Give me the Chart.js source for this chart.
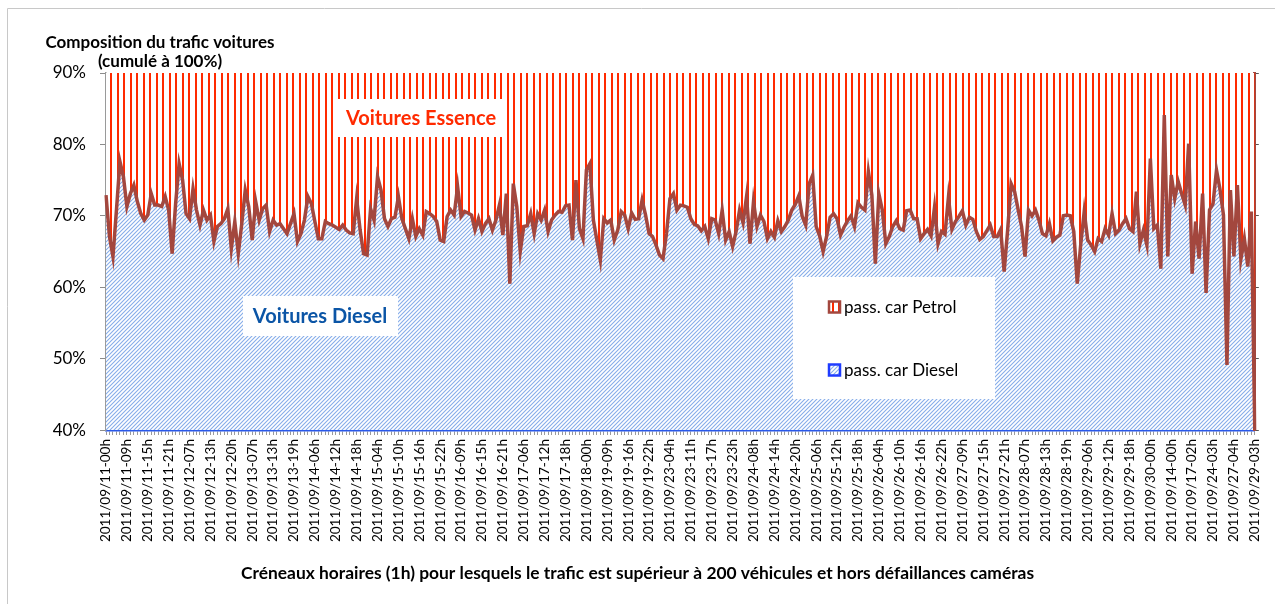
<!DOCTYPE html>
<html>
<head>
<meta charset="utf-8">
<script src="https://cdn.jsdelivr.net/npm/chart.js@4"></script>
<style>
  html, body { margin: 0; padding: 0; background: #fff; }
</style>
</head>
<body>
<canvas id="chart" width="1275" height="604"></canvas>
<script>
// Composition du trafic voitures : part Diesel (cumulé à 100%, le reste = Essence)

// one tick label every 6 hourly slots
const tickLabels = [
    '2011/09/11-00h', '2011/09/11-09h', '2011/09/11-15h', '2011/09/11-21h', '2011/09/12-07h',
    '2011/09/12-13h', '2011/09/12-20h', '2011/09/13-07h', '2011/09/13-13h', '2011/09/13-19h',
    '2011/09/14-06h', '2011/09/14-12h', '2011/09/14-18h', '2011/09/15-04h', '2011/09/15-10h',
    '2011/09/15-16h', '2011/09/15-22h', '2011/09/16-09h', '2011/09/16-15h', '2011/09/16-21h',
    '2011/09/17-06h', '2011/09/17-12h', '2011/09/17-18h', '2011/09/18-00h', '2011/09/19-09h',
    '2011/09/19-16h', '2011/09/19-22h', '2011/09/23-04h', '2011/09/23-11h', '2011/09/23-17h',
    '2011/09/23-23h', '2011/09/24-08h', '2011/09/24-14h', '2011/09/24-20h', '2011/09/25-06h',
    '2011/09/25-12h', '2011/09/25-18h', '2011/09/26-04h', '2011/09/26-10h', '2011/09/26-16h',
    '2011/09/26-22h', '2011/09/27-09h', '2011/09/27-15h', '2011/09/27-21h', '2011/09/28-07h',
    '2011/09/28-13h', '2011/09/28-19h', '2011/09/29-06h', '2011/09/29-12h', '2011/09/29-18h',
    '2011/09/30-00h', '2011/09/14-00h', '2011/09/17-02h', '2011/09/24-03h', '2011/09/27-04h',
    '2011/09/29-03h'
];
const LABEL_STEP = 6;

// share of diesel cars per slot (%), petrol = the rest up to 100%
const dieselShare = [
    72.9, 67.1, 64.3, 70.8, 77.6, 75.5, 71.3, 73.1, 74.3, 72.0,
    70.3, 69.4, 70.1, 73.1, 71.5, 71.5, 71.3, 72.7, 70.8, 64.7,
    71.7, 77.3, 75.0, 70.3, 69.6, 73.8, 70.8, 68.7, 70.8, 69.4,
    70.1, 66.4, 68.5, 68.9, 69.6, 71.0, 65.4, 69.2, 64.7, 68.9,
    73.6, 71.3, 66.6, 72.0, 69.4, 71.0, 71.5, 67.8, 69.4, 68.7,
    68.9, 68.2, 67.5, 68.9, 70.3, 66.4, 67.5, 69.4, 72.7, 71.7,
    69.2, 66.8, 66.8, 69.2, 68.9, 68.7, 68.4, 68.1, 68.7, 68.0,
    67.6, 67.5, 72.4, 68.0, 64.7, 64.5, 71.0, 69.4, 75.5, 73.6,
    69.6, 68.5, 69.6, 69.8, 72.7, 69.6, 68.2, 66.8, 69.6, 67.1,
    68.2, 67.3, 70.6, 70.3, 69.9, 69.2, 66.6, 66.4, 69.9, 70.8,
    70.1, 74.1, 69.9, 70.6, 70.4, 70.1, 68.0, 69.6, 67.8, 68.9,
    69.6, 68.0, 69.4, 71.5, 67.3, 73.1, 60.5, 74.5, 71.3, 65.0,
    68.5, 68.6, 70.3, 67.5, 70.3, 69.4, 70.8, 67.8, 69.4, 70.1,
    70.6, 70.5, 71.4, 71.5, 66.6, 75.0, 68.2, 66.8, 76.4, 77.3,
    69.4, 66.6, 63.8, 69.6, 69.0, 69.4, 66.6, 68.0, 70.6, 70.1,
    68.2, 70.4, 69.5, 69.6, 72.2, 70.1, 67.5, 67.1, 65.9, 64.5,
    64.0, 67.5, 72.4, 73.1, 70.8, 71.5, 71.4, 71.2, 69.6, 68.8,
    68.6, 67.9, 68.5, 66.8, 69.6, 69.4, 67.5, 70.8, 66.6, 67.8,
    65.7, 67.8, 70.8, 69.0, 72.7, 66.1, 72.0, 68.5, 70.1, 69.2,
    66.8, 67.8, 67.0, 69.3, 67.8, 68.5, 69.4, 70.8, 71.6, 72.8,
    69.9, 68.7, 74.5, 75.7, 68.5, 67.2, 65.0, 67.1, 69.8, 70.3,
    69.6, 67.3, 68.4, 69.3, 70.0, 68.5, 71.8, 71.2, 70.8, 76.2,
    72.9, 63.3, 73.1, 70.8, 66.1, 67.1, 68.5, 69.3, 68.2, 68.0,
    70.7, 70.8, 69.6, 69.6, 66.8, 67.5, 68.1, 67.2, 71.2, 66.1,
    67.8, 67.4, 72.6, 68.1, 69.2, 69.9, 70.7, 68.7, 69.8, 69.5,
    67.8, 66.7, 67.1, 67.9, 68.7, 67.1, 67.1, 68.1, 62.2, 68.0,
    74.5, 73.4, 70.9, 68.5, 64.3, 70.8, 70.0, 70.8, 69.4, 67.5,
    67.2, 68.9, 66.5, 67.0, 67.3, 70.0, 70.1, 70.0, 67.8, 60.5,
    66.0, 70.6, 66.6, 65.9, 65.0, 66.8, 66.4, 68.2, 67.3, 70.3,
    67.5, 68.0, 68.9, 69.6, 68.2, 67.8, 73.4, 66.1, 68.0, 65.9,
    78.0, 68.2, 68.7, 62.6, 84.1, 64.3, 75.7, 72.4, 74.8, 73.1,
    71.5, 80.1, 61.9, 69.2, 64.0, 73.1, 59.2, 70.8, 71.7, 76.4,
    73.7, 70.1, 49.1, 73.6, 64.3, 74.3, 63.9, 66.8, 62.9, 70.6,
    40.0
];

const yTicks = [40, 50, 60, 70, 80, 90];

const categories = dieselShare.map((_, i) => i % LABEL_STEP === 0 ? tickLabels[i / LABEL_STEP] : '');

const BROWN = '#a3473e';
const RED = '#ff2a00';
const BLUE = '#2a58e8';

Chart.defaults.font.family = "Lato, 'Open Sans', sans-serif";
Chart.defaults.color = '#000';

// vertical red lines (essence)
function makePetrolPattern() {
    const c = document.createElement('canvas');
    c.width = 13; c.height = 4;
    const g = c.getContext('2d');
    g.fillStyle = '#fff';
    g.fillRect(0, 0, 13, 4);
    g.fillStyle = RED;
    g.fillRect(0, 0, 2, 4);
    g.fillRect(6, 0, 2, 4);
    return g.createPattern(c, 'repeat');
}

// light blue diagonal hatch (diesel)
function makeDieselPattern() {
    const c = document.createElement('canvas');
    c.width = 4; c.height = 4;
    const g = c.getContext('2d');
    g.fillStyle = '#fff';
    g.fillRect(0, 0, 4, 4);
    g.strokeStyle = '#86ade9';
    g.lineWidth = 1.1;
    g.beginPath();
    g.moveTo(-1, 5); g.lineTo(5, -1);
    g.moveTo(-1, 1); g.lineTo(1, -1);
    g.moveTo(3, 5); g.lineTo(5, 3);
    g.stroke();
    return g.createPattern(c, 'repeat');
}

const petrolPattern = makePetrolPattern();
const dieselPattern = makeDieselPattern();

// text boxes, y-axis title and legend, drawn like the Excel original
const overlayPlugin = {
    id: 'overlay',
    afterDatasetsDraw(chart) {
        const ctx = chart.ctx;
        ctx.save();

        // outer frame (left / top)
        ctx.strokeStyle = '#c8c8c8';
        ctx.lineWidth = 1;
        ctx.beginPath();
        ctx.moveTo(7.5, 604); ctx.lineTo(7.5, 8.5); ctx.lineTo(1275, 8.5);
        ctx.stroke();

        // y-axis title
        ctx.fillStyle = '#000';
        ctx.textAlign = 'center';
        ctx.textBaseline = 'middle';
        ctx.font = "bold 17px Lato, sans-serif";
        ctx.fillText('Composition du trafic voitures', 160, 43);
        ctx.fillText('(cumulé à 100%)', 160, 62);

        // labels on the areas
        ctx.fillStyle = '#fff';
        ctx.fillRect(337, 99, 170, 38);
        ctx.fillRect(243, 296, 155, 40);
        ctx.font = "bold 20px Lato, sans-serif";
        ctx.fillStyle = RED;
        ctx.fillText('Voitures Essence', 421, 119);
        ctx.fillStyle = '#0b55a6';
        ctx.fillText('Voitures Diesel', 320, 317);

        // legend
        ctx.fillStyle = '#fff';
        ctx.fillRect(793, 277, 202, 122);
        const items = chart.data.datasets;
        const rows = [307, 370];
        ctx.font = "17px Lato, sans-serif";
        ctx.textAlign = 'left';
        items.forEach((ds, k) => {
            const y = rows[k];
            ctx.fillStyle = ds.backgroundColor;
            ctx.fillRect(829, y - 5.5, 11, 11);
            ctx.strokeStyle = ds.legendColor;
            ctx.lineWidth = 2.5;
            ctx.strokeRect(829, y - 5.5, 11, 11);
            ctx.fillStyle = '#000';
            ctx.fillText(ds.label, 844, y + 1);
        });
        ctx.restore();
    }
};

const ctx = document.getElementById('chart').getContext('2d');
const chart = new Chart(ctx, {
    type: 'line',
    data: {
        labels: categories,
        datasets: [{
            // petrol band sits on top of the diesel share, up to 100%
            label: 'pass. car Petrol',
            data: dieselShare,
            fill: 'end',
            backgroundColor: petrolPattern,
            borderColor: BROWN,
            legendColor: BROWN,
            borderWidth: 3.5,
            pointRadius: 0,
            tension: 0,
            order: 0
        }, {
            label: 'pass. car Diesel',
            data: dieselShare,
            fill: 'start',
            backgroundColor: dieselPattern,
            borderColor: '#6d8fe0',
            legendColor: '#1f3cff',
            borderWidth: 1,
            pointRadius: 0,
            tension: 0,
            order: 1
        }]
    },
    options: {
        responsive: false,
        animation: false,
        layout: { padding: { top: 73, left: 0, right: 0, bottom: 0 } },
        plugins: {
            legend: { display: false },
            tooltip: { enabled: false },
            title: {
                display: true,
                position: 'bottom',
                text: 'Créneaux horaires (1h) pour lesquels le trafic est supérieur à 200 véhicules et hors défaillances caméras',
                font: { size: 17.4, weight: 'bold' },
                color: '#000',
                padding: { top: 10, bottom: 20.5 }
            }
        },
        scales: {
            x: {
                offset: false,
                afterFit: (scale) => { scale.height = 122.6; },
                grid: { drawOnChartArea: false, tickLength: 5, color: '#9a9a9a' },
                border: { color: BLUE, width: 2.5 },
                ticks: {
                    autoSkip: false,
                    maxRotation: 90,
                    minRotation: 90,
                    padding: 4,
                    font: { size: 13.5 }
                }
            },
            y: {
                stacked: false,
                min: 40,
                max: 90,
                afterFit: (scale) => { scale.width = 106; },
                afterBuildTicks: (scale) => { scale.ticks = yTicks.map(v => ({ value: v })); },
                grid: { drawOnChartArea: false, tickLength: 6, color: '#8c8c8c' },
                border: { color: '#9a9a9a', width: 1.5 },
                ticks: {
                    padding: 14,
                    font: { size: 17 },
                    callback: (v) => v + '%'
                }
            },
            y2: {
                position: 'right',
                min: 40,
                max: 90,
                afterFit: (scale) => { scale.width = 10; },
                afterBuildTicks: (scale) => { scale.ticks = yTicks.map(v => ({ value: v })); },
                grid: { drawOnChartArea: false, tickLength: 4, color: '#555' },
                border: { color: BROWN, width: 3 },
                ticks: { display: false }
            }
        }
    },
    plugins: [overlayPlugin]
});
</script>
</body>
</html>
